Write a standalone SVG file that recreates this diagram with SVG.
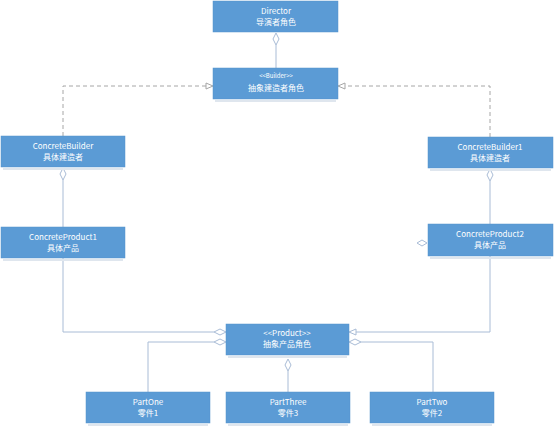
<svg xmlns="http://www.w3.org/2000/svg" width="554" height="430" viewBox="0 0 554 430">
<style>
.box{fill:#5b9bd5;stroke:#5592cc;stroke-width:0.5}
.sh{fill:#dfe6ee}
.t{font-family:"Noto Sans CJK SC","Liberation Sans",sans-serif;fill:#ffffff;text-anchor:middle;font-size:8px}
.s{font-size:6px}
.ln{fill:none;stroke:#a9bcd6;stroke-width:1}
.dl{fill:none;stroke:#a6a6a6;stroke-width:1;stroke-dasharray:4,3}
.dm{fill:#ffffff;stroke:#a9bcd6;stroke-width:1}
.tr{fill:#ffffff;stroke:#a6a6a6;stroke-width:1}
.tr2{fill:#ffffff;stroke:#a9bcd6;stroke-width:1}
</style>
<rect width="554" height="430" fill="#ffffff"/>
<g id="connectors">
<line class="ln" x1="276" y1="45" x2="276" y2="68"/>
<polygon class="dm" points="276,33 279,39 276,45 273,39"/>
<polyline class="dl" points="63,136 63,86 207,86"/>
<polygon class="tr" points="213,86 206,83 206,89"/>
<polyline class="dl" points="490,137 490,86 344,86"/>
<polygon class="tr" points="338,86 345,83 345,89"/>
<line class="ln" x1="63" y1="180" x2="63" y2="227"/>
<polygon class="dm" points="63,168 66,174 63,180 60,174"/>
<line class="ln" x1="490" y1="181" x2="490" y2="224"/>
<polygon class="dm" points="490,169 493,175 490,181 487,175"/>
<polygon class="dm" points="417,243 422,240 427,243 422,246"/>
<polyline class="ln" points="63,258 63,332 214,332"/>
<polygon class="dm" points="226,332 220,329 214,332 220,335"/>
<polyline class="ln" points="148,392 148,342 214,342"/>
<polygon class="dm" points="226,342 220,339 214,342 220,345"/>
<polyline class="ln" points="490,256 490,332 356,332"/>
<polygon class="tr2" points="349,332 356,329 356,335"/>
<polyline class="ln" points="433,392 433,342 361,342"/>
<polygon class="dm" points="349,342 355,339 361,342 355,345"/>
<line class="ln" x1="288" y1="371" x2="288" y2="392"/>
<polygon class="dm" points="288,359 291,365 288,371 285,365"/>
</g>
<g id="director">
<rect class="box" x="213" y="1" width="125" height="31"/>
<text class="t" x="276" y="14">Director</text>
<text class="t" x="276" y="25">导演者角色</text>
</g>
<g id="builder">
<rect class="sh" x="215" y="100" width="121" height="2"/>
<rect class="box" x="213" y="68" width="125" height="31"/>
<text class="t s" x="276" y="78">&lt;&lt;Builder&gt;&gt;</text>
<text class="t" x="276" y="91">抽象建造者角色</text>
</g>
<g id="concreteBuilder">
<rect class="sh" x="3" y="168" width="120" height="2"/>
<rect class="box" x="1" y="136" width="124" height="31"/>
<text class="t" x="63" y="149">ConcreteBuilder</text>
<text class="t" x="63" y="160">具体建造者</text>
</g>
<g id="concreteBuilder1">
<rect class="sh" x="430" y="169" width="121" height="2"/>
<rect class="box" x="428" y="137" width="125" height="31"/>
<text class="t" x="490" y="150">ConcreteBuilder1</text>
<text class="t" x="490" y="161">具体建造者</text>
</g>
<g id="concreteProduct1">
<rect class="sh" x="3" y="259" width="120" height="2"/>
<rect class="box" x="1" y="227" width="124" height="31"/>
<text class="t" x="63" y="240">ConcreteProduct1</text>
<text class="t" x="63" y="251">具体产品</text>
</g>
<g id="concreteProduct2">
<rect class="sh" x="430" y="257" width="121" height="2"/>
<rect class="box" x="428" y="224" width="125" height="32"/>
<text class="t" x="490" y="237">ConcreteProduct2</text>
<text class="t" x="490" y="248">具体产品</text>
</g>
<g id="product">
<rect class="sh" x="228" y="356" width="119" height="2"/>
<rect class="box" x="226" y="324" width="123" height="31"/>
<text class="t" x="287" y="336">&lt;&lt;Product&gt;&gt;</text>
<text class="t" x="287" y="347">抽象产品角色</text>
</g>
<g id="partOne">
<rect class="sh" x="88" y="424" width="120" height="2"/>
<rect class="box" x="86" y="392" width="124" height="31"/>
<text class="t" x="148" y="405">PartOne</text>
<text class="t" x="148" y="416">零件1</text>
</g>
<g id="partThree">
<rect class="sh" x="228" y="424" width="120" height="2"/>
<rect class="box" x="226" y="392" width="124" height="31"/>
<text class="t" x="288" y="405">PartThree</text>
<text class="t" x="288" y="416">零件3</text>
</g>
<g id="partTwo">
<rect class="sh" x="372" y="424" width="120" height="2"/>
<rect class="box" x="370" y="392" width="124" height="31"/>
<text class="t" x="432" y="405">PartTwo</text>
<text class="t" x="432" y="416">零件2</text>
</g>
</svg>
